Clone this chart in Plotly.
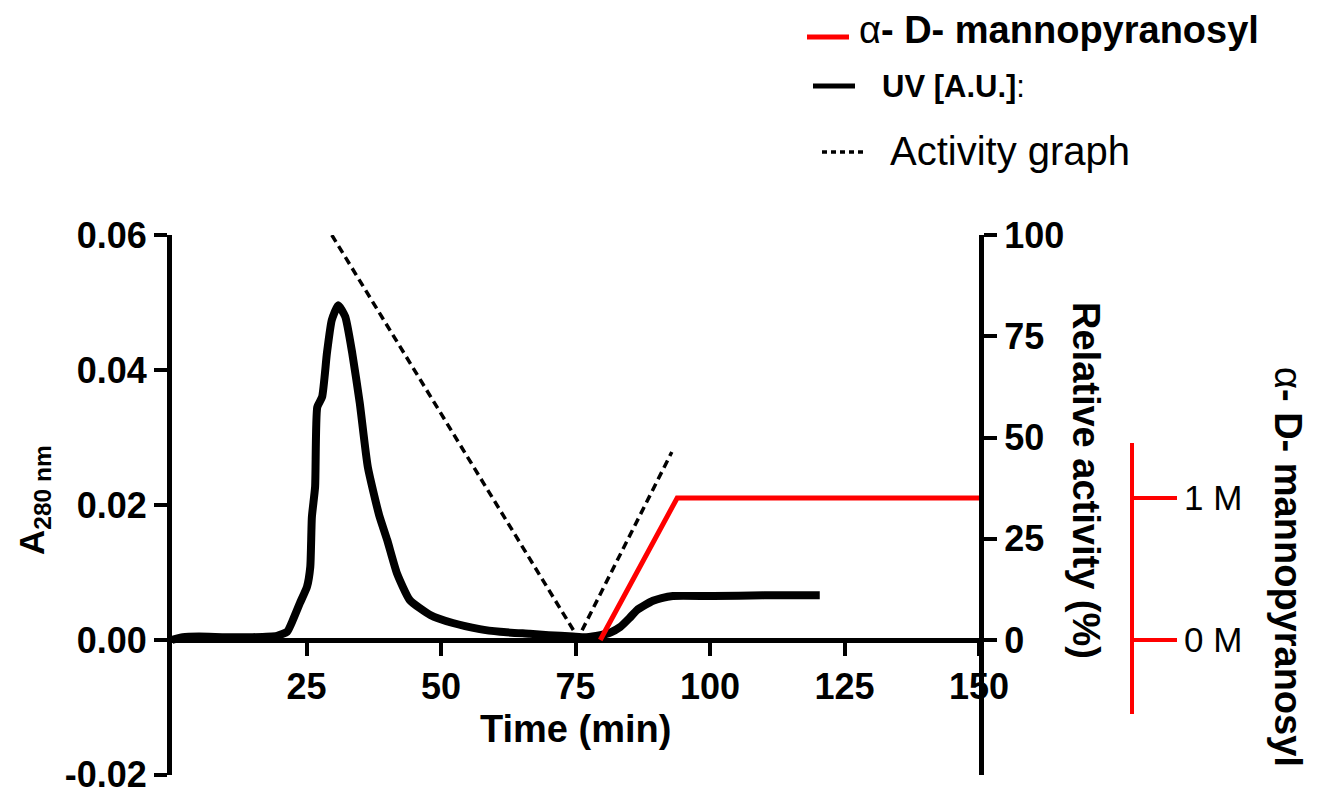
import plotly.graph_objects as go

# ---------------- data ----------------
uv_time = [0, 2, 5, 10, 15, 19.5, 21.4, 22.5, 23.8, 25.1, 25.7, 26.0, 26.6, 27.0, 27.9,
           28.8, 29.7, 30.9, 32.2, 33.5, 34.9, 36.4, 38.5, 40.0, 41.8, 44.2, 48.0, 52.2,
           57.2, 61, 66.5, 70, 74.5, 77, 79.6, 81.5, 83.3, 85, 86.4, 88, 89.4, 91, 93.1,
           100.6, 110, 120.4]
uv_abs = [0.0, 0.0004, 0.0005, 0.0004, 0.0004, 0.0006, 0.0012, 0.003, 0.0055, 0.0079,
          0.0108, 0.0182, 0.0227, 0.0345, 0.036, 0.0425, 0.0474, 0.0496, 0.0479, 0.0425,
          0.0351, 0.0256, 0.0185, 0.0148, 0.0099, 0.0059, 0.0037, 0.0025, 0.0016, 0.0012,
          0.0009, 0.0007, 0.0005, 0.0004, 0.0007, 0.0011, 0.0019, 0.0032, 0.0044, 0.0052,
          0.0058, 0.0062, 0.0065, 0.0065, 0.0066, 0.0066]

act_time = [29.7, 75.5, 92.9]
act_rel = [100, 0.5, 46.4]

man_time = [79.6, 93.9, 150]
man_conc = [0, 1, 1]

left_ticks = [-0.02, 0.0, 0.02, 0.04, 0.06]
left_ticktext = ["-0.02", "0.00", "0.02", "0.04", "0.06"]
right_ticks = [0, 25, 50, 75, 100]
x_ticks = [25, 50, 75, 100, 125, 150]
man_ticks = [0, 1]
man_ticktext = ["0 M", "1 M"]

# ---------------- layout geometry ----------------
W, H = 1323, 792
ML, MR, MT, MB = 172, 20, 235, 17
PW = W - ML - MR
PH = H - MT - MB


def px2x(px):
    return (px - ML) / PW


def py2y(py):
    return (H - MB - py) / PH


FONT = "Liberation Sans, Arial, sans-serif"

fig = go.Figure()

fig.add_trace(go.Scatter(x=uv_time, y=uv_abs, mode="lines",
                         line=dict(color="black", width=8, shape="spline", smoothing=0.5),
                         xaxis="x", yaxis="y", showlegend=False))
fig.add_trace(go.Scatter(x=act_time, y=act_rel, mode="lines",
                         line=dict(color="black", width=3.5, dash="8px,5px"),
                         xaxis="x", yaxis="y2", showlegend=False))
fig.add_trace(go.Scatter(x=man_time, y=man_conc, mode="lines",
                         line=dict(color="#ff0000", width=5),
                         xaxis="x", yaxis="y3", showlegend=False, cliponaxis=False))

x_end = px2x(979)
y_zero_frac = (0 - (-0.02)) / 0.08

common = dict(showgrid=False, zeroline=False, showline=True, automargin=False,
              ticklabeloverflow="allow")

fig.update_layout(
    width=W, height=H,
    margin=dict(l=ML, r=MR, t=MT, b=MB, pad=0, autoexpand=False),
    paper_bgcolor="white", plot_bgcolor="rgba(0,0,0,0)",
    font=dict(family=FONT, color="black"),
    showlegend=False,
    xaxis=dict(domain=[0, x_end], range=[0, 150], anchor="free", position=y_zero_frac,
               linecolor="black", linewidth=5,
               ticks="outside", ticklen=13, tickwidth=4, tickcolor="black",
               tickvals=x_ticks, tickfont=dict(size=36, weight="bold", family=FONT), **common),
    yaxis=dict(domain=[0, 1], range=[-0.02002, 0.06], anchor="x",
               linecolor="black", linewidth=5,
               ticks="outside", ticklen=13, tickwidth=4, tickcolor="black",
               tickvals=left_ticks, ticktext=left_ticktext,
               tickfont=dict(size=36, weight="bold", family=FONT), **common),
    yaxis2=dict(overlaying="y", side="right", anchor="x", range=[-100 / 3, 100],
                linecolor="black", linewidth=5,
                ticks="outside", ticklen=13, tickwidth=4, tickcolor="black",
                tickvals=right_ticks, tickfont=dict(size=36, weight="bold", family=FONT), **common),
    yaxis3=dict(domain=[py2y(714), py2y(443)], range=[-0.521, 1.387], anchor="free",
                position=px2x(1132), side="right",
                linecolor="#ff0000", linewidth=4,
                ticks="outside", ticklen=43, tickwidth=4, tickcolor="#ff0000",
                tickvals=man_ticks, ticktext=man_ticktext,
                tickfont=dict(size=35, family=FONT, color="black"), **common),
)

annotations = [
    dict(text="<b>Time (min)</b>", x=px2x(575), y=py2y(729), xref="paper", yref="paper",
         showarrow=False, font=dict(size=38, family=FONT), xanchor="center", yanchor="middle"),
    dict(text="<b>A</b><sub><b>280 nm</b></sub>", x=px2x(34), y=py2y(500), xref="paper", yref="paper",
         textangle=-90, showarrow=False, font=dict(size=35, family=FONT), xanchor="center", yanchor="middle"),
    dict(text="<b>Relative activity (%)</b>", x=px2x(1086), y=py2y(480), xref="paper", yref="paper",
         textangle=90, showarrow=False, font=dict(size=38, family=FONT), xanchor="center", yanchor="middle"),
    dict(text="α<b>- D- mannopyranosyl</b>", x=px2x(1288), y=py2y(567), xref="paper", yref="paper",
         textangle=90, showarrow=False, font=dict(size=38, family=FONT), xanchor="center", yanchor="middle"),
    # legend texts
    dict(text="α<b>- D- mannopyranosyl</b>", x=px2x(857), y=py2y(30), xref="paper", yref="paper",
         showarrow=False, font=dict(size=38, family=FONT), xanchor="left", yanchor="middle"),
    dict(text="<b>UV [A.U.]</b>:", x=px2x(880), y=py2y(87), xref="paper", yref="paper",
         showarrow=False, font=dict(size=31, family=FONT), xanchor="left", yanchor="middle"),
    dict(text="Activity graph", x=px2x(888), y=py2y(151), xref="paper", yref="paper",
         showarrow=False, font=dict(size=40, family=FONT), xanchor="left", yanchor="middle"),
]
fig.update_layout(annotations=annotations)

shapes = [
    dict(type="line", xref="paper", yref="paper", x0=px2x(807), x1=px2x(849), y0=py2y(37), y1=py2y(37),
         line=dict(color="#ff0000", width=5)),
    dict(type="line", xref="paper", yref="paper", x0=px2x(813), x1=px2x(855), y0=py2y(86), y1=py2y(86),
         line=dict(color="black", width=5)),
    dict(type="line", xref="paper", yref="paper", x0=px2x(822), x1=px2x(865), y0=py2y(152), y1=py2y(152),
         line=dict(color="black", width=3.5, dash="5px,4px")),
]
fig.update_layout(shapes=shapes)

fig.write_html("out.html")
